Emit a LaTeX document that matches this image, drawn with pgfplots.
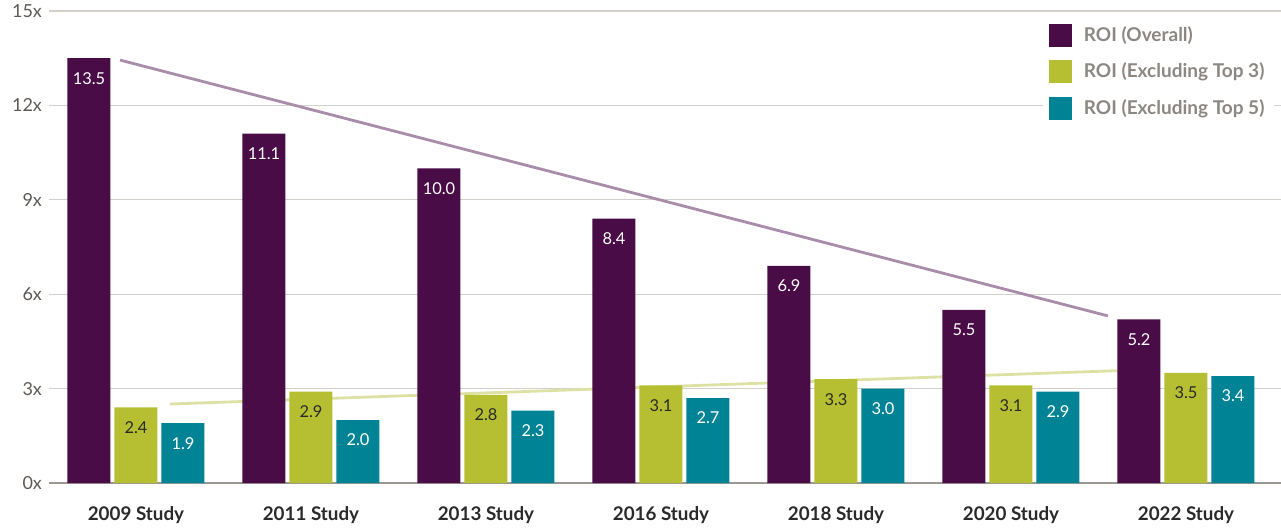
\documentclass[border=0pt]{standalone}
\usepackage{fontspec}
\setmainfont{Lato}
\usepackage{pgfplots}
\pgfplotsset{compat=1.18}

\definecolor{roiall}{HTML}{4A0C46}
\definecolor{roitop3}{HTML}{B6BF31}
\definecolor{roitop5}{HTML}{008394}
\definecolor{trendall}{HTML}{A98CAA}
\definecolor{trendtop3}{HTML}{DDE2A4}
\definecolor{gridc}{HTML}{D3D0CC}
\definecolor{zeroc}{HTML}{9B9792}
\definecolor{tickc}{HTML}{5E5955}
\definecolor{catc}{HTML}{2A2A2A}
\definecolor{legc}{HTML}{8C8782}

\pgfplotsset{
  barlabel/.style 2 args={nodes near coords, point meta=y,
    nodes near coords style={anchor=center, yshift=-10pt, xshift=#1, text=#2,
        font=\fontsize{8.2}{9}\selectfont,
        /pgf/number format/fixed, /pgf/number format/fixed zerofill,
        /pgf/number format/precision=1, /pgf/number format/assume math mode=true}},
}

\begin{document}
\begin{tikzpicture}
\begin{axis}[
    scale only axis,
    width=616pt, height=236pt,
    xmin=-0.497, xmax=6.543,
    ymin=0, ymax=15,
    ytick={0,3,...,15},
    yticklabel={\pgfmathprintnumber[assume math mode=true]{\tick}x},
    yticklabel style={font=\fontsize{9}{10}\selectfont, text=tickc},
    xtick={0,...,6},
    xticklabels={2009 Study,2011 Study,2013 Study,2016 Study,2018 Study,2020 Study,2022 Study},
    xticklabel style={font=\bfseries\fontsize{9.4}{10}\selectfont, text=catc, yshift=-8pt},
    major tick length=0pt,
    ymajorgrids,
    grid style={color=gridc, line width=0.65pt},
    axis x line*=bottom,
    axis y line*=left,
    x axis line style={color=zeroc, line width=1pt},
    y axis line style={draw=none},
    legend cell align=left,
    legend style={at={(0.995,0.99)}, anchor=north east, draw=none, fill=white,
        font=\bfseries\fontsize{9.5}{10}\selectfont, text=legc, row sep=5.5pt,
        inner xsep=3pt, inner ysep=3pt,
        /tikz/every odd column/.append style={column sep=4pt}},
    legend image code/.code={\fill[#1,draw=none] (0pt,-5.75pt) rectangle (11.5pt,5.75pt);},
]
% trend lines, behind the bars
\addplot[forget plot, color=trendall, line width=1.4pt] coordinates {(-0.091,13.44) (5.554,5.31)};
\addplot[forget plot, color=trendtop3, line width=1.4pt] coordinates {(0.194,2.51) (5.61,3.57)};

\addplot[ybar, bar width=21.5pt, bar shift=-23.5pt, fill=roiall, draw=none,
    barlabel={-23.5pt}{white}]
  coordinates {(0,13.5) (1,11.1) (2,10.0) (3,8.4) (4,6.9) (5,5.5) (6,5.2)};
\addlegendentry{ROI (Overall)}
\addplot[ybar, bar width=21.5pt, bar shift=0pt, fill=roitop3, draw=none,
    barlabel={0pt}{catc}]
  coordinates {(0,2.4) (1,2.9) (2,2.8) (3,3.1) (4,3.3) (5,3.1) (6,3.5)};
\addlegendentry{ROI (Excluding Top 3)}
\addplot[ybar, bar width=21.5pt, bar shift=23.5pt, fill=roitop5, draw=none,
    barlabel={23.5pt}{white}]
  coordinates {(0,1.9) (1,2.0) (2,2.3) (3,2.7) (4,3.0) (5,2.9) (6,3.4)};
\addlegendentry{ROI (Excluding Top 5)}
\end{axis}
\pgfresetboundingbox
\path[use as bounding box] ([xshift=-24.5pt,yshift=-24pt]current axis.south west)
    rectangle ([yshift=5.5pt]current axis.north east);
\end{tikzpicture}
\end{document}
